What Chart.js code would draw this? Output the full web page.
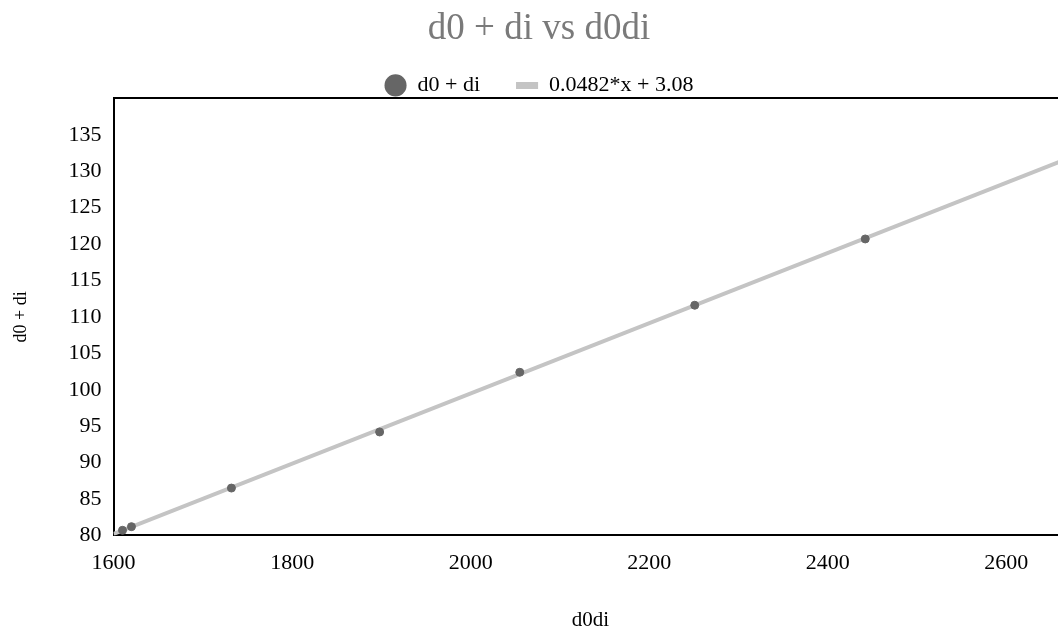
<!DOCTYPE html>
<html>
<head>
<meta charset="utf-8">
<script src="https://cdn.jsdelivr.net/npm/chart.js@4/dist/chart.umd.min.js"></script>
<style>
html,body{margin:0;padding:0;background:#fff;overflow:hidden;width:1058px;height:632px;}
#wrap{width:1072px;height:632px;}
</style>
</head>
<body>
<div id="wrap"><canvas id="c" width="1072" height="632"></canvas></div>
<script>
const titleText = 'd0 + di vs d0di';
const seriesName = 'd0 + di';
const fitName = '0.0482*x + 3.08';
const xLabel = 'd0di';
const yLabel = 'd0 + di';

const pointsX = [1610, 1620, 1732, 1898, 2055, 2251, 2442];
const pointsY = [80.7, 81.2, 86.5, 94.2, 102.4, 111.6, 120.7];

const fitX = [1600, 2668];
const fitY = [80.2, 131.7];

const xTicks = [1600, 1800, 2000, 2200, 2400, 2600];
const yTicks = [80, 85, 90, 95, 100, 105, 110, 115, 120, 125, 130, 135];
const xMin = 1600, xMax = 2668;
const yMin = 80, yMax = 140;

Chart.defaults.font.family = "'Liberation Serif', 'Times New Roman', serif";
Chart.defaults.color = '#000';

const scatterData = pointsX.map((x, i) => ({x: x, y: pointsY[i]}));
const fitData = fitX.map((x, i) => ({x: x, y: fitY[i]}));

const legendHeightFix = {
  id: 'legendHeightFix',
  beforeLayout(chart) {
    const lg = chart.legend;
    if (lg && !lg._hfix) {
      const orig = lg.fit;
      lg.fit = function() { orig.call(this); this.height -= 8; };
      lg._hfix = true;
    }
  }
};

new Chart(document.getElementById('c'), {
  type: 'scatter',
  data: {
    datasets: [
      {
        label: seriesName,
        data: scatterData,
        backgroundColor: '#666666',
        borderColor: '#666666',
        pointRadius: 4,
        pointHoverRadius: 4,
        pointStyle: 'circle',
        order: 1
      },
      {
        label: fitName,
        type: 'line',
        data: fitData,
        borderColor: '#c4c4c4',
        backgroundColor: '#c4c4c4',
        borderWidth: 4,
        pointRadius: 0,
        fill: false,
        order: 2
      }
    ]
  },
  plugins: [legendHeightFix],
  options: {
    responsive: false,
    devicePixelRatio: 1,
    animation: false,
    layout: {padding: {left: 6, right: 0, top: 0, bottom: 0}},
    plugins: {
      tooltip: {enabled: false},
      title: {
        display: true,
        text: titleText,
        color: '#7a7a7a',
        font: {size: 37, weight: 'normal', lineHeight: 1.2},
        padding: {top: 7, bottom: -13}
      },
      legend: {
        display: true,
        position: 'top',
        labels: {
          usePointStyle: true,
          boxHeight: 15.6,
          padding: 36,
          font: {size: 22},
          color: '#000',
          generateLabels: function(chart) {
            return [
              {text: seriesName, pointStyle: 'circle', fillStyle: '#666666', strokeStyle: '#666666', lineWidth: 0, datasetIndex: 0, hidden: false},
              {text: fitName, pointStyle: 'line', fillStyle: '#c4c4c4', strokeStyle: '#c4c4c4', lineWidth: 7, datasetIndex: 1, hidden: false}
            ];
          }
        }
      }
    },
    scales: {
      x: {
        type: 'linear',
        position: 'bottom',
        min: xMin,
        max: xMax,
        afterBuildTicks: axis => { axis.ticks = xTicks.map(v => ({value: v})); },
        grid: {display: false, drawTicks: true, tickLength: 8},
        border: {display: true, color: '#000', width: 2},
        ticks: {font: {size: 22}, color: '#000', padding: 7, maxRotation: 0, autoSkip: false, callback: v => String(v)},
        title: {display: true, text: xLabel, font: {size: 21}, color: '#000', padding: {top: 24, bottom: -1}}
      },
      xTop: {
        type: 'linear',
        position: 'top',
        min: xMin,
        max: xMax,
        grid: {display: false, drawTicks: false},
        border: {display: true, color: '#000', width: 2},
        ticks: {display: false}
      },
      y: {
        type: 'linear',
        min: yMin,
        max: yMax,
        afterBuildTicks: axis => { axis.ticks = yTicks.map(v => ({value: v})); },
        grid: {display: false, drawTicks: true, tickLength: 8},
        border: {display: true, color: '#000', width: 2},
        ticks: {font: {size: 22}, color: '#000', padding: 4, autoSkip: false, callback: v => String(v)},
        title: {display: true, text: yLabel, font: {size: 18}, color: '#000', padding: {top: 4, bottom: 33}}
      }
    }
  }
});
</script>
</body>
</html>
